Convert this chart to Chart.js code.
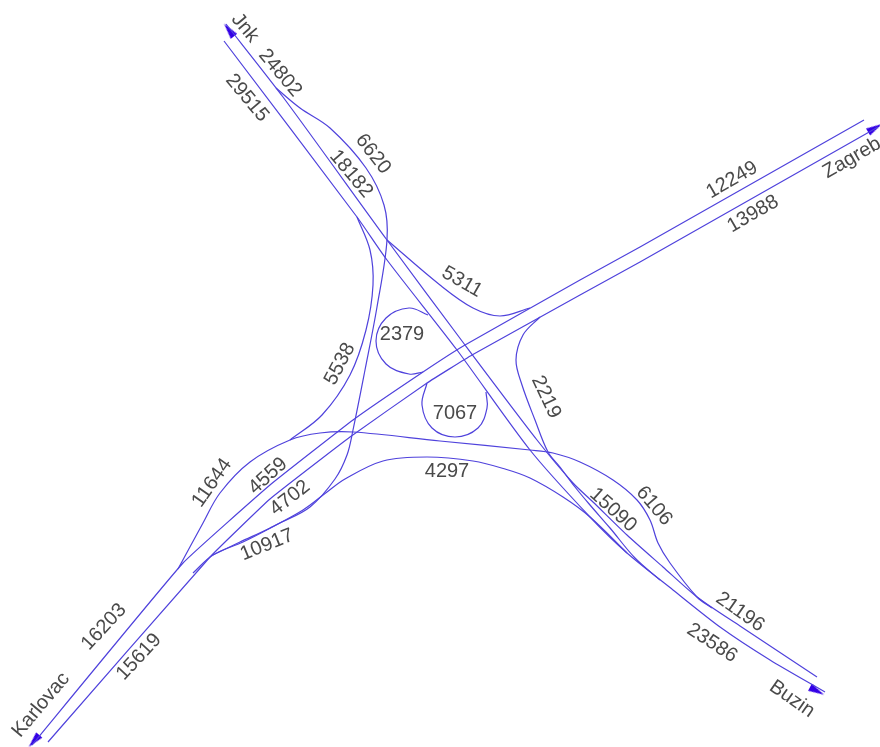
<!DOCTYPE html>
<html lang="en">
<head>
    <meta charset="UTF-8">
    <title>Interchange traffic flows</title>
    <style>
        html, body { margin: 0; padding: 0; background: #fff; }
        canvas { display: block; filter: blur(0.4px); }
    </style>
</head>
<body>
    <canvas id="flowChart" width="880" height="747"></canvas>

    <script src="https://cdn.jsdelivr.net/npm/chart.js"></script>
    <script>
        // Through carriageways
        const jnkToBuzinUpper = [[226,24],[283,97],[387,240],[465,345],[537,440],[573,483],[593,502],[627,535],[663,567],[697,597],[740,626],[817,677]];
        const jnkToBuzinLower = [[224,41],[357,217],[387,260],[457,350],[530,450],[590,517],[627,553],[673,590],[720,627],[770,660],[825,692]];
        const zagrebToKarlovacUpper = [[864,120],[640,247],[580,280],[465,345],[423,372],[353,420],[270,485],[183,563],[32,745]];
        const zagrebToKarlovacLower = [[878,127],[640,262],[580,295],[472,355],[427,383],[350,437],[270,499],[210,557],[48,742]];

        // Ramps
        const rampJnkKarlovacOuter = [[276,88],[300,108],[330,128],[366,168],[384,205],[387,240],[377,307],[365,370],[353,430],[347,455],[335,479],[310,507],[280,523],[243,542],[213,555],[193,573]];
        const rampJnkKarlovacInner = [[357,217],[370,250],[373,285],[366,330],[350,375],[322,415],[290,440]];
        const rampKarlovacBuzinUpper = [[178,569],[203,523],[220,493],[250,462],[290,440],[320,433],[353,432],[440,441],[530,450],[553,453],[580,462],[613,480],[637,500],[650,520],[658,543],[670,563],[697,597],[712,608]];
        const rampKarlovacBuzinLower = [[213,555],[240,542],[270,528],[303,510],[327,492],[345,479],[383,461],[427,457],[473,461],[505,469],[530,478],[563,497],[590,517],[627,553]];
        const rampJnkZagreb = [[387,240],[440,285],[473,308],[500,316],[530,308]];
        const rampZagrebBuzin = [[540,317],[523,335],[516,360],[522,385],[535,420],[548,452],[560,467],[575,487],[590,505],[610,528],[635,558],[660,580]];
        const loopNorthWest = [[428,315],[409,308],[386,318],[376,341],[386,364],[409,374],[423,372]];
        const loopSouthEast = [[427,383],[422,405],[432,428],[455,437],[478,428],[487,408],[486,392]];

        // Direction markers: x, y, bearing
        const arrowPoints = [[229,30,-38],[875,128,60],[34,741,221],[817,691,118]];

        // Text labels
        const labelTexts = ['Jnk','24802','29515','6620','18182','5311','2379','7067','2219','5538','11644','4559','4702','10917','4297','16203','15619','Karlovac','15090','6106','21196','23586','Buzin','12249','13988','Zagreb'];
        const labelX = [245,280,247,373,351,462,402,455,546,340,212,268,290,267,447,104,139,41,613,654,740,712,792,732,753,852];
        const labelY = [28,73,98,154,174,282,334,413,397,364,483,476,498,545,471,627,657,705,510,506,612,643,699,180,214,158];
        const labelAngle = [50,50,50,52,50,30,0,0,65,-62,-55,-42,-38,-22,0,-47,-47,-50,42,50,35,33,35,-30,-30,-30];

        const lineColor = '#4f42dc';

        function toPoints(path) {
            return path.map(p => ({ x: p[0], y: p[1] }));
        }

        function road(path, tension) {
            return {
                data: toPoints(path),
                borderColor: lineColor,
                borderWidth: 1.2,
                pointRadius: 0,
                tension: tension,
                fill: false
            };
        }

        // Narrow arrow head, pointing up
        const arrowHead = document.createElement('canvas');
        arrowHead.width = 10;
        arrowHead.height = 16;
        const headCtx = arrowHead.getContext('2d');
        headCtx.fillStyle = '#3300e6';
        headCtx.beginPath();
        headCtx.moveTo(5, 0);
        headCtx.lineTo(9, 16);
        headCtx.lineTo(1, 16);
        headCtx.closePath();
        headCtx.fill();

        const arrowDatasets = arrowPoints.map(a => ({
            data: [{ x: a[0], y: a[1] }],
            showLine: false,
            pointStyle: arrowHead,
            pointRadius: 6,
            pointRotation: a[2]
        }));

        // Rotated flow numbers and place names
        const labelPlugin = {
            id: 'flowLabels',
            afterDatasetsDraw(chart) {
                const ctx = chart.ctx;
                ctx.save();
                ctx.font = '20px "Liberation Sans", Arial, sans-serif';
                ctx.fillStyle = '#4a4a4a';
                ctx.textAlign = 'center';
                ctx.textBaseline = 'middle';
                labelTexts.forEach((text, i) => {
                    ctx.save();
                    ctx.translate(chart.scales.x.getPixelForValue(labelX[i]), chart.scales.y.getPixelForValue(labelY[i]));
                    ctx.rotate(labelAngle[i] * Math.PI / 180);
                    ctx.fillText(text, 0, 0);
                    ctx.restore();
                });
                ctx.restore();
            }
        };

        new Chart(document.getElementById('flowChart'), {
            type: 'scatter',
            data: {
                datasets: [
                    road(jnkToBuzinUpper, 0.25),
                    road(jnkToBuzinLower, 0.25),
                    road(zagrebToKarlovacUpper, 0.1),
                    road(zagrebToKarlovacLower, 0.1),
                    road(rampJnkKarlovacOuter, 0.35),
                    road(rampJnkKarlovacInner, 0.35),
                    road(rampKarlovacBuzinUpper, 0.35),
                    road(rampKarlovacBuzinLower, 0.35),
                    road(rampJnkZagreb, 0.35),
                    road(rampZagrebBuzin, 0.35),
                    road(loopNorthWest, 0.38),
                    road(loopSouthEast, 0.38),
                    ...arrowDatasets
                ].map(d => ({ showLine: true, ...d }))
            },
            options: {
                responsive: false,
                animation: false,
                layout: { autoPadding: false, padding: 0 },
                plugins: { legend: { display: false }, tooltip: { enabled: false } },
                scales: {
                    x: { type: 'linear', min: 0, max: 880, display: false },
                    y: { type: 'linear', min: 0, max: 747, reverse: true, display: false }
                }
            },
            plugins: [labelPlugin]
        });
    </script>
</body>
</html>
